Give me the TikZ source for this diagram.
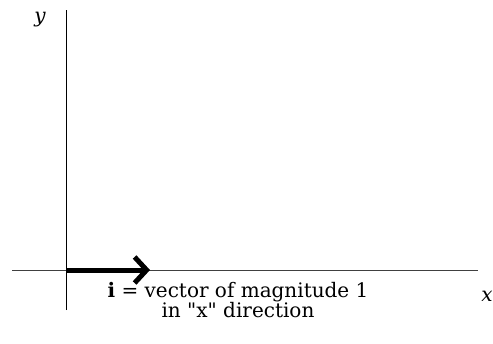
\documentclass[tikz,border=0pt]{standalone}
\usepackage{fontspec}
\setmainfont{DejaVu Serif}
\usetikzlibrary{arrows.meta}

\begin{document}
\begin{tikzpicture}[x=1pt, y=-1pt, >={Straight Barb[length=12pt, width=26pt]}]
\useasboundingbox (0,0) rectangle (493,343);
\coordinate (O) at (66,270);
\coordinate (xl) at (12,270);
\coordinate (xr) at (478,270);
\coordinate (yt) at (66,10);
\coordinate (yb) at (66,310);
\coordinate (I) at (150,270);
\draw[black!75, line width=1pt] (xl) -- (xr);
\draw[black, line width=1pt] (yb) -- (yt);
\draw[->, black, line width=5pt] (O) -- (I);
\node[font=\fontsize{20}{20}\selectfont\itshape] (ylab) at (40,20) {y};
\node[font=\fontsize{20}{20}\selectfont\itshape] (xlab) at (487,296) {x};
\node[font=\fontsize{20}{20}\selectfont, align=center, inner sep=0pt] (ilab) at (238,300)
  {\textbf{i} = vector of magnitude 1\\ in \textquotedbl x\textquotedbl{} direction};
\end{tikzpicture}
\end{document}
